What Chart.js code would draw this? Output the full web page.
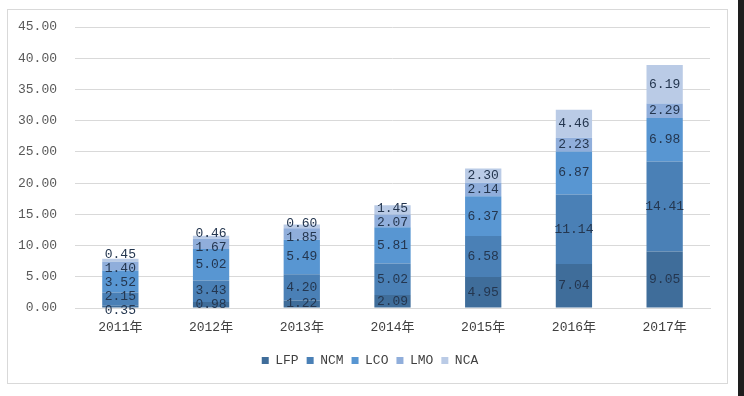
<!DOCTYPE html>
<html>
<head>
<meta charset="utf-8">
<script src="https://cdn.jsdelivr.net/npm/chart.js@4/dist/chart.umd.min.js"></script>
<style>
  html, body { margin: 0; padding: 0; background: #fff; }
  #wrap { position: relative; width: 744px; height: 396px; overflow: hidden; }
  #frame { position: absolute; left: 7px; top: 9px; width: 719px; height: 373px; border: 1px solid #d9d9d9; }
  #edge { position: absolute; left: 738px; top: 0; width: 6px; height: 396px; background: #1e1e1e; }
  canvas { position: absolute; left: 0; top: 0; }
</style>
</head>
<body>
<div id="wrap">
  <div id="frame"></div>
  <canvas id="chart" width="744" height="396"></canvas>
  <div id="edge"></div>
</div>
<script>
// ---- data ----
const years = ['2011年', '2012年', '2013年', '2014年', '2015年', '2016年', '2017年'];
const lfp = [0.35, 0.98, 1.22, 2.09, 4.95, 7.04, 9.05];
const ncm = [2.15, 3.43, 4.20, 5.02, 6.58, 11.14, 14.41];
const lco = [3.52, 5.02, 5.49, 5.81, 6.37, 6.87, 6.98];
const lmo = [1.40, 1.67, 1.85, 2.07, 2.14, 2.23, 2.29];
const nca = [0.45, 0.46, 0.60, 1.45, 2.30, 4.46, 6.19];
const yTicks = [0, 5, 10, 15, 20, 25, 30, 35, 40, 45];

const FONT = "'Liberation Mono', 'Noto Sans CJK SC', monospace";
const MIN_GAP = 14;

// 每段中央写数值（挤在一起时上下拉开）
const segLabels = {
    id: 'segLabels',
    afterDatasetsDraw(chart) {
        const ctx = chart.ctx;
        ctx.save();
        ctx.font = '13px ' + FONT;
        ctx.fillStyle = '#24364f';
        ctx.textAlign = 'center';
        ctx.textBaseline = 'middle';
        const n = chart.data.labels.length;
        for (let j = 0; j < n; j++) {
            const items = chart.data.datasets.map((ds, i) => {
                const bar = chart.getDatasetMeta(i).data[j];
                return { x: bar.x, y: (bar.y + bar.base) / 2, t: ds.data[j].toFixed(2) };
            });
            // items 从下往上，y 递减
            for (let k = 0; k < 50; k++) {
                for (let a = 0; a < items.length - 1; a++) {
                    const gap = items[a].y - items[a + 1].y;
                    if (gap < MIN_GAP) {
                        const d = (MIN_GAP - gap) / 2;
                        items[a].y += d;
                        items[a + 1].y -= d;
                    }
                }
            }
            items.forEach(it => ctx.fillText(it.t, it.x, it.y));
        }
        ctx.restore();
    }
};

// 图例整体往右挪一点（原图是按整幅宽度居中的）
const legendShift = {
    id: 'legendShift',
    afterLayout(chart) {
        const lg = chart.legend;
        if (!lg || lg._shifted) return;
        const orig = lg.draw.bind(lg);
        lg.draw = function (area) {
            const c = this.ctx;
            c.save();
            c.translate(15, 0);
            orig(area);
            c.restore();
        };
        lg._shifted = true;
    }
};

const mk = (label, data, color) => ({
    label, data, backgroundColor: color, borderWidth: 0,
    barPercentage: 0.4, categoryPercentage: 1
});

new Chart(document.getElementById('chart'), {
    type: 'bar',
    data: {
        labels: years,
        datasets: [
            mk('LFP', lfp, '#3f6d9a'),
            mk('NCM', ncm, '#4a80b6'),
            mk('LCO', lco, '#5896d2'),
            mk('LMO', lmo, '#90aedb'),
            mk('NCA', nca, '#bacbe6')
        ]
    },
    options: {
        responsive: false,
        animation: false,
        layout: { padding: { top: 27, right: 34, bottom: 19, left: 0 } },
        plugins: {
            tooltip: { enabled: false },
            legend: {
                position: 'bottom',
                labels: {
                    font: { family: FONT, size: 13 },
                    color: '#404040',
                    boxWidth: 7,
                    boxHeight: 7,
                    padding: 8
                }
            }
        },
        scales: {
            x: {
                stacked: true,
                grid: { display: false, drawTicks: false },
                border: { display: true, color: '#d9d9d9' },
                ticks: { font: { family: FONT, size: 13 }, color: '#404040', padding: 12 },
                afterFit(s) { s.height = 38; }
            },
            y: {
                stacked: true,
                min: 0, max: 45,
                afterBuildTicks(s) { s.ticks = yTicks.map(v => ({ value: v })); },
                grid: { color: '#d9d9d9', drawTicks: false },
                border: { display: false },
                ticks: {
                    font: { family: FONT, size: 13 }, color: '#595959', padding: 18,
                    callback: v => v.toFixed(2)
                },
                afterFit(s) { s.width = 75; }
            }
        }
    },
    plugins: [segLabels, legendShift]
});
</script>
</body>
</html>
